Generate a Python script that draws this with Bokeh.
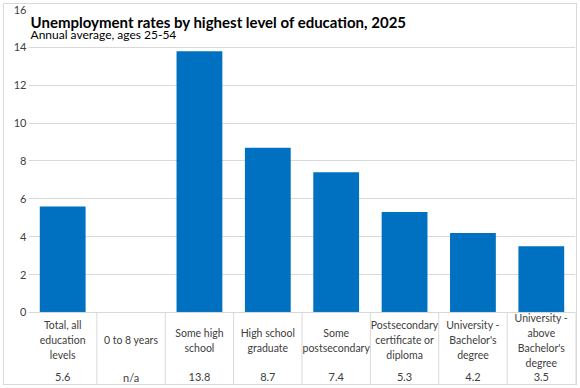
from bokeh.plotting import figure
from bokeh.models import Range1d, FixedTicker, Label
from bokeh.core.properties import value
from bokeh.embed import file_html
from bokeh.resources import INLINE

title = "Unemployment rates by highest level of education, 2025"
subtitle = "Annual average, ages 25-54"
categories = [
    "Total, all\neducation\nlevels",
    "0 to 8 years",
    "Some high\nschool",
    "High school\ngraduate",
    "Some\npostsecondary",
    "Postsecondary\ncertificate or\ndiploma",
    "University -\nBachelor's\ndegree",
    "University -\nabove\nBachelor's\ndegree",
]
rates = [5.6, None, 13.8, 8.7, 7.4, 5.3, 4.2, 3.5]
y_ticks = [0, 2, 4, 6, 8, 10, 12, 14, 16]

FONT = "Lato"
TXT = "#404040"
GRID = "#d9d9d9"
BLUE = "#0070C0"

n = len(categories)
centers = [i + 0.5 for i in range(n)]
lo = -3.91

p = figure(width=574, height=382, x_range=Range1d(0, n), y_range=Range1d(lo, 16),
           output_backend="svg", toolbar_location=None,
           min_border_left=24, min_border_right=3, min_border_top=5, min_border_bottom=0)
p.styles = {"border": "1px solid #d9d9d9", "margin-left": "3px", "margin-top": "3px"}
p.outline_line_color = None
p.background_fill_color = "white"
p.xaxis.visible = False
p.xgrid.visible = False
p.yaxis.ticker = FixedTicker(ticks=y_ticks)
p.yaxis.axis_line_color = None
p.yaxis.major_tick_line_color = None
p.yaxis.minor_tick_line_color = None
p.yaxis.major_tick_out = 0
p.yaxis.major_tick_in = 0
p.yaxis.minor_tick_out = 0
p.yaxis.minor_tick_in = 0
p.yaxis.major_label_standoff = 2
p.yaxis.major_label_text_font = FONT
p.yaxis.major_label_text_font_size = "11px"
p.yaxis.major_label_text_color = TXT
p.ygrid.grid_line_color = GRID
p.ygrid.grid_line_width = 1

bar_x = [c for c, r in zip(centers, rates) if r is not None]
bar_top = [r for r in rates if r is not None]
p.vbar(x=bar_x, top=bar_top, width=0.67, bottom=0, color=BLUE, line_color=None)

# data table below the axis
p.segment(x0=list(range(1, n + 1)), y0=[0] * n, x1=list(range(1, n + 1)), y1=[lo] * n,
          line_color=GRID, line_width=1)
p.segment(x0=[0], y0=[0], x1=[n], y1=[0], line_color=GRID, line_width=1)

p.text(x=centers, y=[-1.48] * n, text=categories, text_align="center", text_baseline="middle",
       text_font=value(FONT), text_font_size="10.5px", text_color=TXT, text_line_height=1.25)
val_txt = [("%.1f" % r) if r is not None else "n/a" for r in rates]
p.text(x=centers, y=[-3.43] * n, text=val_txt, text_align="center", text_baseline="middle",
       text_font=value(FONT), text_font_size="11px", text_color=TXT)

p.add_layout(Label(x=0.03, y=15.36, text=title, text_font=FONT, text_font_style="bold",
                   text_font_size="15px", text_color="black", text_baseline="alphabetic"))
p.add_layout(Label(x=0.03, y=14.68, text=subtitle, text_font=FONT,
                   text_font_size="12px", text_color="black", text_baseline="alphabetic"))

open("out.html", "w").write(file_html(p, INLINE))
